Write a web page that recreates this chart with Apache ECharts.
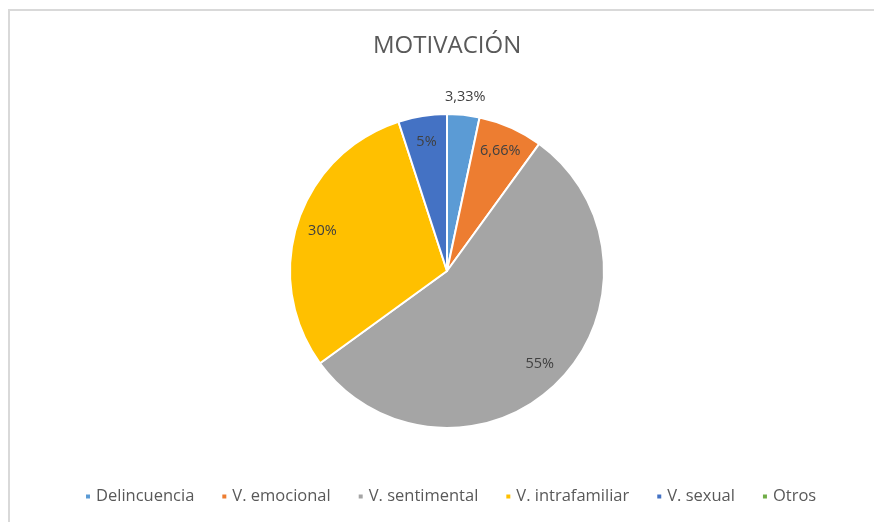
<!DOCTYPE html>
<html>
<head>
<meta charset="utf-8">
<script src="https://cdn.jsdelivr.net/npm/echarts@6/dist/echarts.min.js"></script>
<style>
  html, body { margin: 0; padding: 0; background: #fff; }
  #wrap { position: relative; width: 874px; height: 522px; }
  #frame { position: absolute; left: 8px; top: 9px; right: 0; bottom: 0;
           border-left: 2px solid #d9d9d9; border-top: 2px solid #d9d9d9; }
  #chart { position: absolute; left: 0; top: 0; width: 874px; height: 522px; }
</style>
</head>
<body>
<div id="wrap">
  <div id="frame"></div>
  <div id="chart"></div>
</div>
<script>
const categories = ['Delincuencia', 'V. emocional', 'V. sentimental', 'V. intrafamiliar', 'V. sexual', 'Otros'];
const values = [3.33, 6.66, 55, 30, 5, 0];
const colors = ['#5B9BD5', '#ED7D31', '#A5A5A5', '#FFC000', '#4472C4', '#70AD47'];

const fmt = p => String(p.value).replace('.', ',') + '%';
const labelFont = { fontFamily: 'Open Sans', fontSize: 14.5, color: '#404040' };
const center = [447, 271];

// labels that sit inside the slices (drawn on an invisible ring)
const innerData = categories.map((name, i) => ({
  name, value: values[i],
  label: { show: values[i] > 0 && i !== 0 }
}));
// the tiny slice gets its label just above the pie
const outerData = categories.map((name, i) => ({
  name, value: values[i],
  label: { show: i === 0 }
}));

const chart = echarts.init(document.getElementById('chart'), null, { renderer: 'canvas' });
chart.setOption({
  color: colors,
  title: {
    text: 'MOTIVACIÓN',
    left: 368,
    top: 29,
    textStyle: { fontFamily: 'Open Sans', fontSize: 24, fontWeight: 'normal', color: '#595959' }
  },
  legend: {
    data: categories,
    bottom: 12,
    left: 79,
    icon: 'rect',
    itemWidth: 6,
    itemHeight: 6,
    itemGap: 26,
    textStyle: { fontFamily: 'Open Sans', fontSize: 16.5, color: '#595959' }
  },
  series: [
    {
      name: 'main',
      type: 'pie',
      center,
      radius: [0, 157],
      startAngle: 90,
      label: { show: false },
      labelLine: { show: false },
      itemStyle: { borderColor: '#fff', borderWidth: 2 },
      emphasis: { disabled: true },
      data: categories.map((name, i) => ({ name, value: values[i] }))
    },
    {
      name: 'labelsInner',
      type: 'pie',
      center,
      radius: [90, 166],
      startAngle: 90,
      silent: true,
      itemStyle: { color: 'transparent', borderWidth: 0 },
      label: Object.assign({ position: 'inside', formatter: fmt }, labelFont),
      labelLine: { show: false },
      emphasis: { disabled: true },
      data: innerData
    },
    {
      name: 'labelsOuter',
      type: 'pie',
      center,
      radius: [150, 194],
      startAngle: 90,
      silent: true,
      itemStyle: { color: 'transparent', borderWidth: 0 },
      label: Object.assign({ position: 'inside', formatter: fmt }, labelFont),
      labelLine: { show: false },
      emphasis: { disabled: true },
      data: outerData
    }
  ]
});
</script>
</body>
</html>
